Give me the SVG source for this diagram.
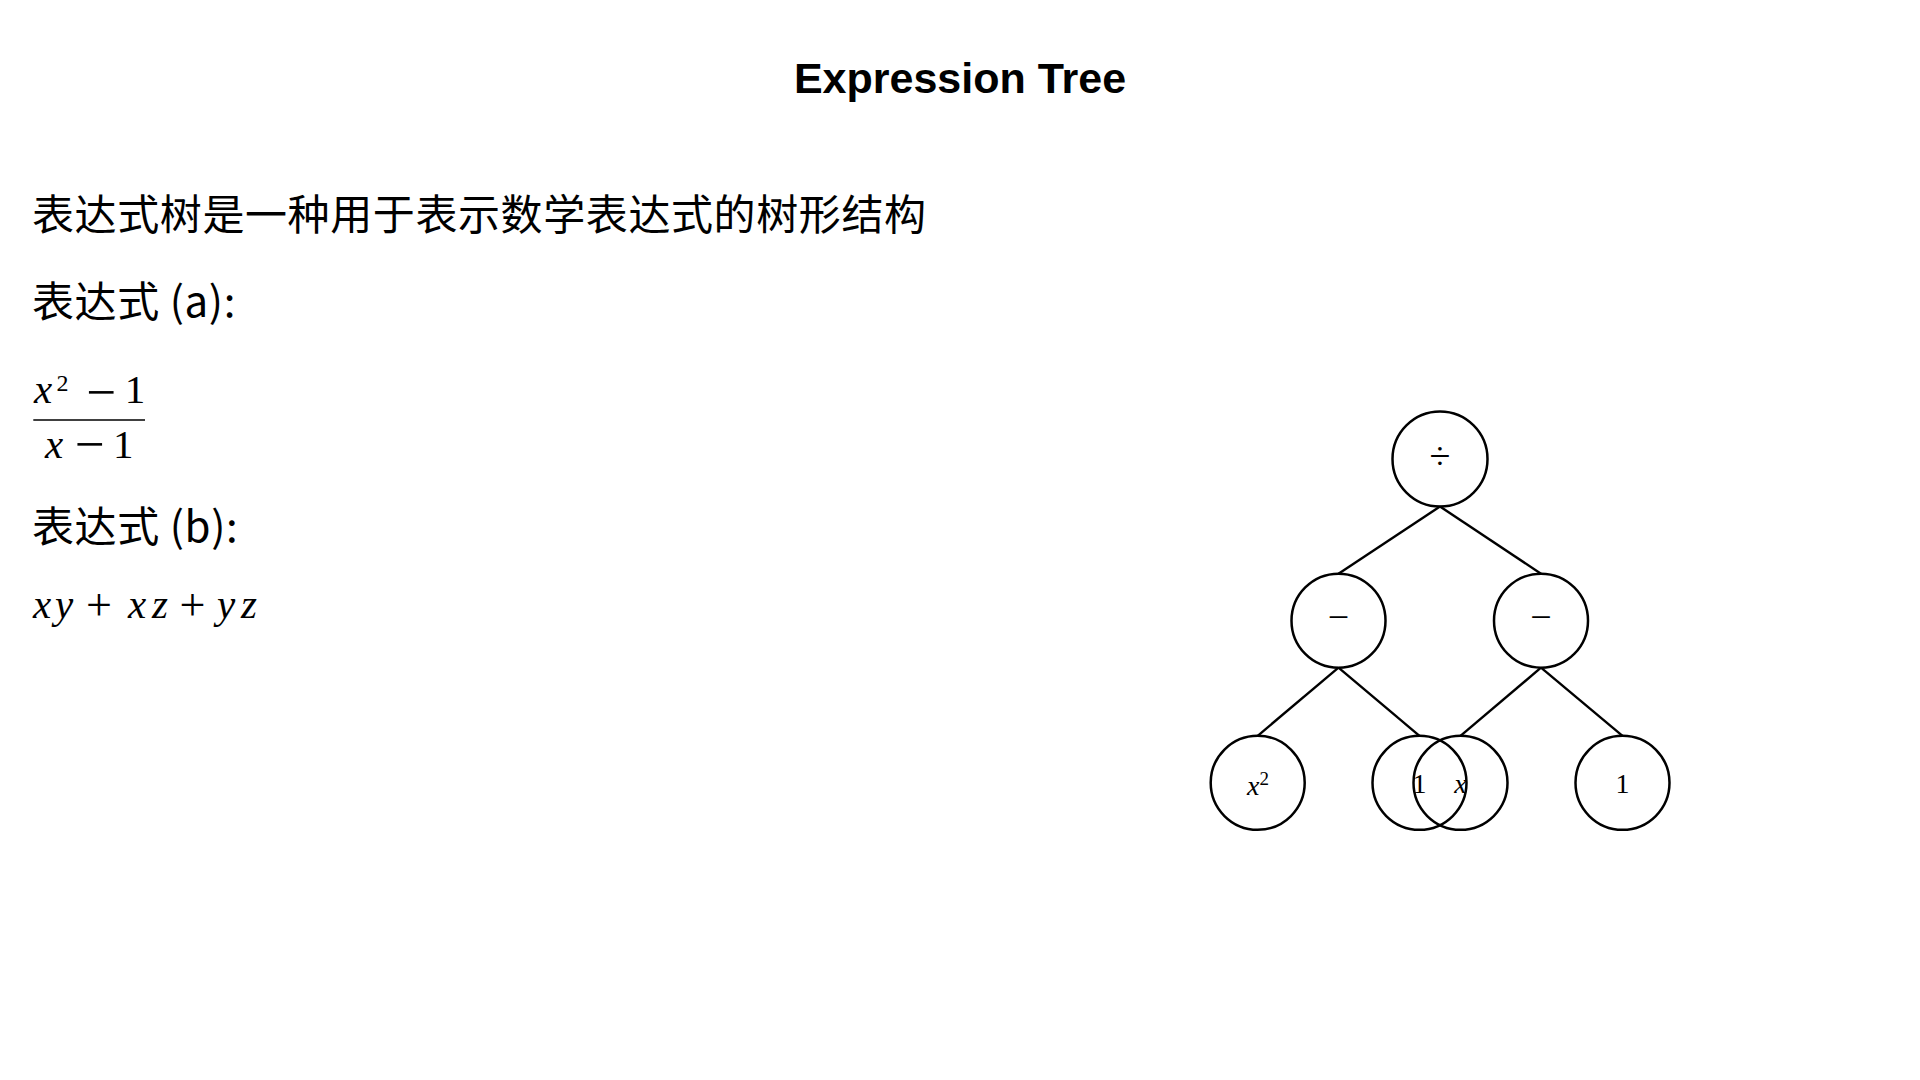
<svg xmlns="http://www.w3.org/2000/svg" width="1920" height="1080" viewBox="0 0 1920 1080">
<style>
.title{font-family:"Liberation Sans",Arial,sans-serif;font-weight:bold;font-size:43px;fill:#000}
.cjk{font-family:"Noto Sans CJK SC","Noto Sans",sans-serif;font-size:42px;fill:#000;letter-spacing:0.6px}
.m{font-family:"Liberation Serif",serif;font-size:41px;fill:#000}
.sup{font-family:"Liberation Serif",serif;font-size:24px;fill:#000}
.mi{font-family:"Liberation Serif",serif;font-size:41px;font-style:italic;fill:#000}
.op{font-family:"Liberation Serif",serif;fill:#000;text-anchor:middle}
.node circle{fill:none;stroke:#000;stroke-width:2.5}
.lbl{font-family:"Liberation Serif",serif;font-size:28px;fill:#000;text-anchor:middle}
.nop{font-family:"Liberation Serif",serif;font-size:38px;fill:#000;text-anchor:middle}
#connectors line{stroke:#000;stroke-width:2.4}
</style>
<rect width="1920" height="1080" fill="#fff"/>
<text id="title" class="title" x="960" y="93" text-anchor="middle">Expression Tree</text>
<g id="description">
<text class="cjk" x="32" y="230">表达式树是一种用于表示数学表达式的树形结构</text>
<text class="cjk" x="32" y="317">表达式 (a):</text>
<text class="cjk" x="32" y="542">表达式 (b):</text>
</g>
<g id="expr-a">
<text class="mi" x="34" y="403">x</text>
<text class="sup" x="56.5" y="391">2</text>
<text class="op" x="101.5" y="410" font-size="53">−</text>
<text class="m" x="135" y="403" text-anchor="middle">1</text>
<line x1="33.3" y1="420" x2="145" y2="420" stroke="#000" stroke-width="1.6"/>
<text class="mi" x="45" y="458.3">x</text>
<text class="op" x="90" y="461.5" font-size="53">−</text>
<text class="m" x="123.3" y="458.3" text-anchor="middle">1</text>
</g>
<g id="expr-b">
<text class="mi" x="33" y="618.3">x</text>
<text class="mi" x="55" y="618.3">y</text>
<text class="op" x="99" y="619.8" font-size="46">+</text>
<text class="mi" x="128" y="618.3">x</text>
<text class="mi" x="152" y="618.3">z</text>
<text class="op" x="192.5" y="619.8" font-size="46">+</text>
<text class="mi" x="217" y="618.3">y</text>
<text class="mi" x="241" y="618.3">z</text>
</g>
<g id="connectors">
<line x1="1440" y1="506.5" x2="1338.5" y2="573.7"/>
<line x1="1440" y1="506.5" x2="1541" y2="573.7"/>
<line x1="1338.5" y1="667.7" x2="1257.7" y2="735.8"/>
<line x1="1338.5" y1="667.7" x2="1419.5" y2="735.8"/>
<line x1="1541" y1="667.7" x2="1460.5" y2="735.8"/>
<line x1="1541" y1="667.7" x2="1622.5" y2="735.8"/>
</g>
<g id="node-div" class="node">
<circle cx="1440" cy="459" r="47.5"/>
<text class="nop" x="1440" y="468.5">÷</text>
</g>
<g id="node-minus-left" class="node">
<circle cx="1338.5" cy="620.7" r="47"/>
<text class="nop" x="1338.5" y="630.2">−</text>
</g>
<g id="node-minus-right" class="node">
<circle cx="1541" cy="620.7" r="47"/>
<text class="nop" x="1541" y="630.2">−</text>
</g>
<g id="node-x2" class="node">
<circle cx="1257.7" cy="782.8" r="47"/>
<text class="lbl" x="1258" y="795"><tspan font-style="italic">x</tspan><tspan font-size="19" dy="-10">2</tspan></text>
</g>
<g id="node-one-left" class="node">
<circle cx="1419.5" cy="782.8" r="47"/>
<text class="lbl" x="1419.5" y="792.7">1</text>
</g>
<g id="node-x" class="node">
<circle cx="1460.5" cy="782.8" r="47"/>
<text class="lbl" x="1460.5" y="792.7" font-style="italic">x</text>
</g>
<g id="node-one-right" class="node">
<circle cx="1622.5" cy="782.8" r="47"/>
<text class="lbl" x="1622.5" y="792.7">1</text>
</g>
</svg>
